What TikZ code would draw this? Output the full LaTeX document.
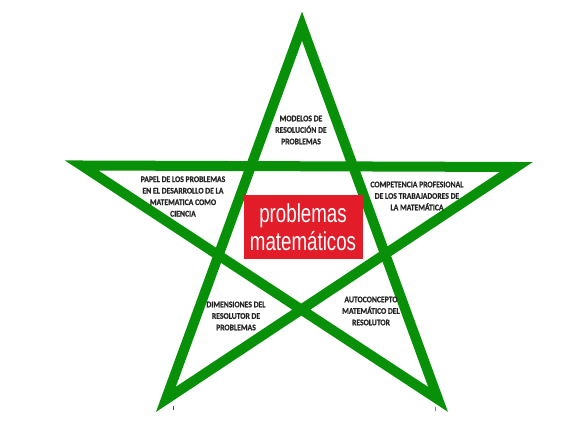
\documentclass[tikz,border=0pt]{standalone}
\usepackage{fontspec}
\newfontfamily\labelfont[FakeStretch=0.9,FakeBold=0.8]{Carlito}
\newfontfamily\boxfont[FakeStretch=0.72]{Liberation Sans}
\definecolor{stargreen}{RGB}{8,145,8}
\definecolor{boxred}{RGB}{226,28,40}
\tikzset{
  lbl/.style={inner sep=0pt,align=center,text=black!85,font=\labelfont\bfseries\fontsize{8.5}{11.5}\selectfont},
  star/.style={draw=stargreen,line width=10pt,line join=miter,miter limit=20}
}
\begin{document}
\begin{tikzpicture}[x=1pt,y=-1pt]
\useasboundingbox (0,0) rectangle (582,427);
\coordinate (T) at (302,26.2);
\coordinate (L) at (81.7,165.5);
\coordinate (R) at (516.3,167);
\coordinate (BL) at (165.9,399.4);
\coordinate (BR) at (438.1,399.4);
\draw[star] (T) -- (BL) -- (R) -- (L) -- (BR) -- cycle;
\node[fill=boxred,minimum width=119pt,minimum height=64pt,inner sep=0pt,align=center,text=white,
  font=\boxfont\fontsize{26}{28}\selectfont] (P) at (303,227) {problemas\\matemáticos};
\node[lbl] (M1) at (301,130) {MODELOS DE\\RESOLUCIÓN DE\\PROBLEMAS};
\node[lbl] (M2) at (183,196.5) {PAPEL DE LOS PROBLEMAS\\EN EL DESARROLLO DE LA\\MATEMATICA COMO\\CIENCIA};
\node[lbl] (M3) at (417,196) {COMPETENCIA PROFESIONAL\\DE LOS TRABAJADORES DE\\LA MATEMÁTICA};
\node[lbl] (M4) at (236,316) {DIMENSIONES DEL\\RESOLUTOR DE\\PROBLEMAS};
\node[lbl] (M5) at (371,311) {AUTOCONCEPTO\\MATEMÁTICO DEL\\RESOLUTOR};
\draw[brown!60!black,line width=0.8pt] (173.5,406) -- (173.5,410);
\draw[gray,line width=0.5pt] (435.5,407) -- (435.5,411);
\end{tikzpicture}
\end{document}
